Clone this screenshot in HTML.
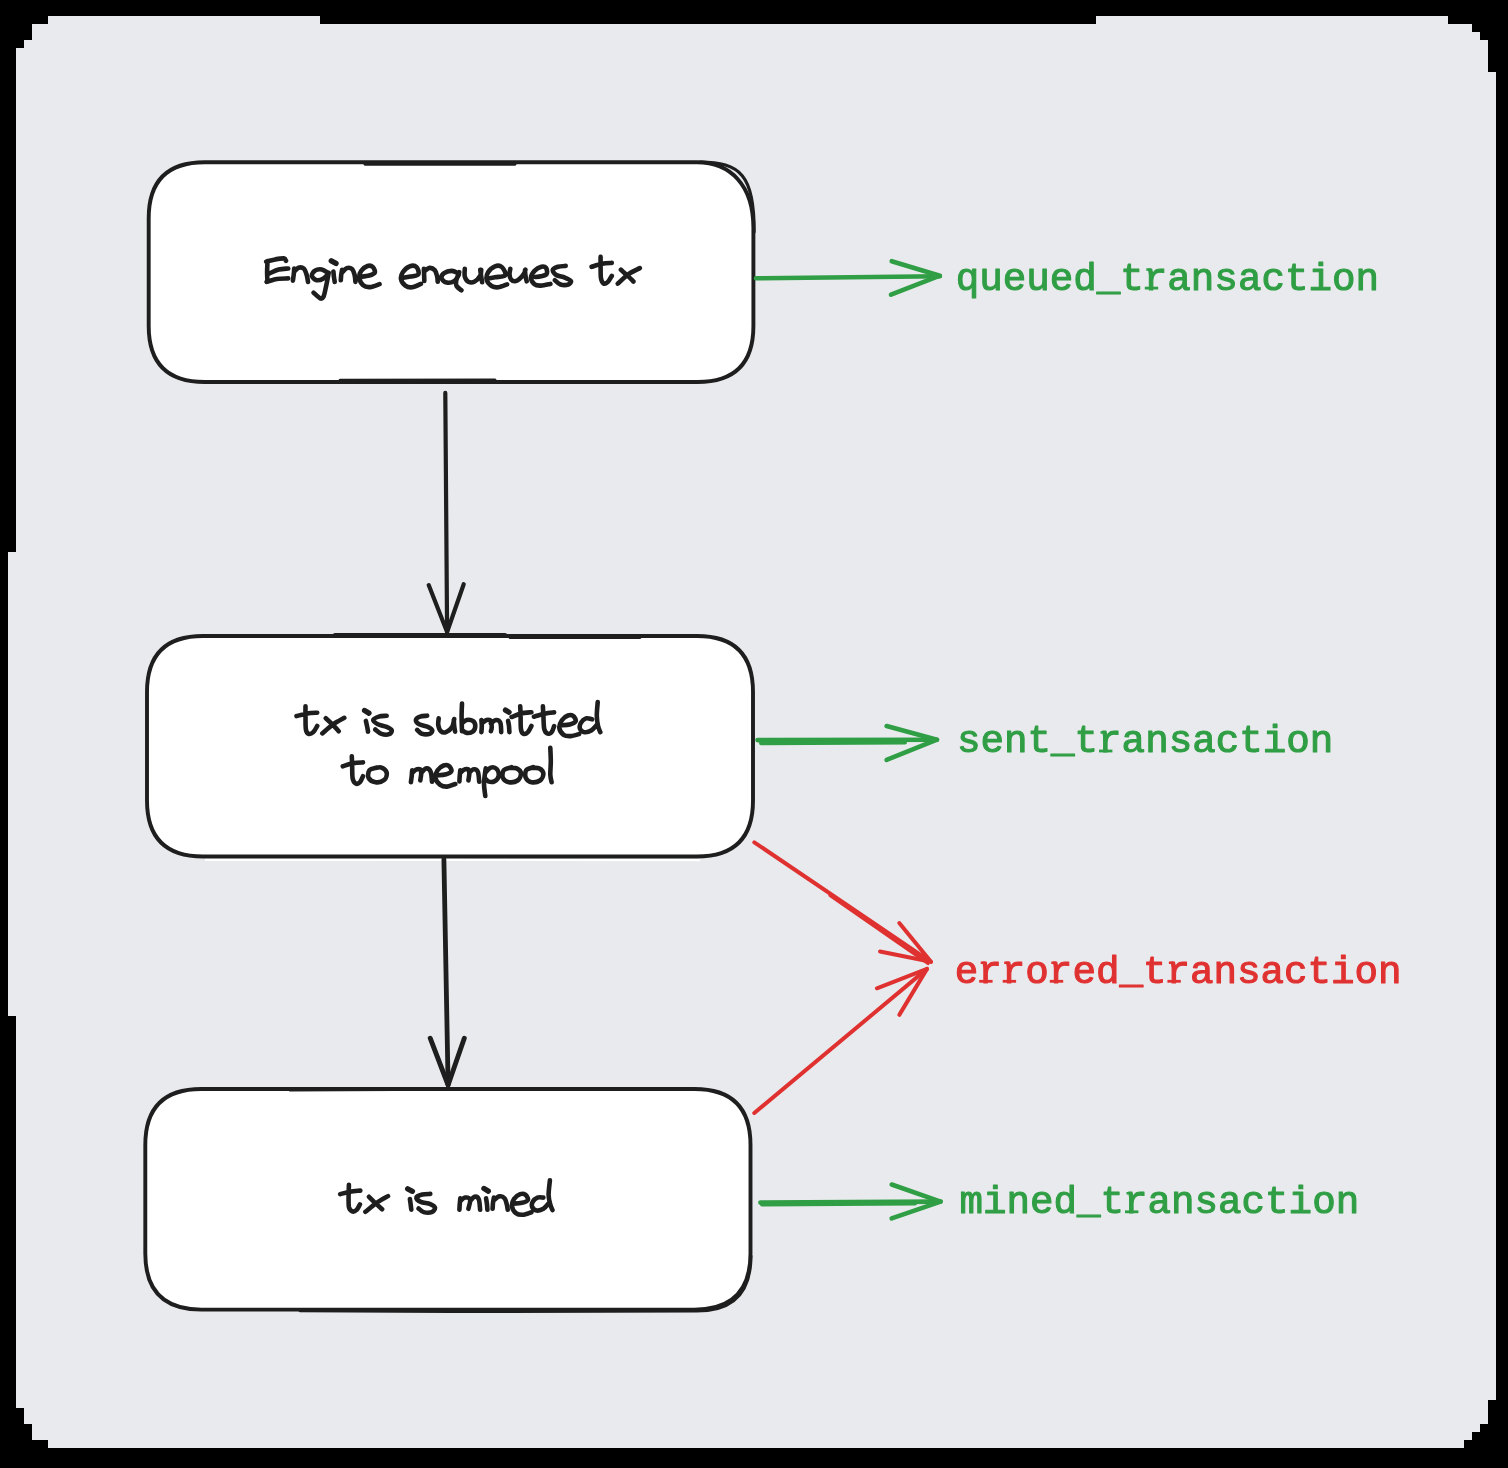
<!DOCTYPE html>
<html><head><meta charset="utf-8">
<style>
html,body{margin:0;padding:0;background:#000;width:1508px;height:1468px;overflow:hidden}
svg{display:block;will-change:transform}
.mono{font-family:"Liberation Mono",monospace;font-weight:normal;font-size:39.2px}
</style></head><body>
<svg width="1508" height="1468" viewBox="0 0 1508 1468">
<rect x="0" y="0" width="1508" height="1468" fill="#000"/>
<polygon fill="#e9eaed" points="48,16 320,16 320,24 1096,24 1096,16 1448,16 1448,24 1472,24 1472,32 1480,32 1480,40 1488,40 1488,72 1496,72 1496,1400 1488,1400 1488,1424 1480,1424 1480,1432 1472,1432 1472,1440 1464,1440 1464,1448 48,1448 48,1440 32,1440 32,1424 24,1424 24,1408 16,1408 16,1016 8,1016 8,552 16,552 16,48 24,48 24,40 32,40 32,24 48,24"/>
<path fill="none" stroke="#fff" stroke-width="2.6" d="M205 859.6 L700 859.9"/>
<g fill="#fff" stroke="#1e1e1e" stroke-width="3.9" stroke-linecap="round" stroke-linejoin="round">
<path d="M204.7 162.3 L697 162.3 C730 162.3 753.4 185 753.4 228 L753.4 326 Q753.4 382 697.4 382 L204.7 382 Q148.7 382 148.7 326 L148.7 218.3 Q148.7 162.3 204.7 162.3 Z"/>
<path d="M203 636 L697 636 Q753 636 753 692 L753 800.5 Q753 856.5 697 856.5 L203 856.5 Q147 856.5 147 800.5 L147 692 Q147 636 203 636 Z"/>
<path d="M201.3 1089 L694.5 1089 Q750.5 1089 750.5 1145 L750.5 1253.6 Q750.5 1309.6 694.5 1309.6 L201.3 1309.6 Q145.3 1309.6 145.3 1253.6 L145.3 1145 Q145.3 1089 201.3 1089 Z"/>
</g>
<path fill="none" stroke="#1e1e1e" stroke-width="3.2" stroke-linecap="round" d="M700 162.2C740 162.2 754.6 175 754.1 232"/>
<path fill="none" stroke="#1e1e1e" stroke-width="3" stroke-linecap="round" d="M340 380.3 L495 380.1"/>
<path fill="none" stroke="#1e1e1e" stroke-width="3" stroke-linecap="round" d="M365 164.2 L515 164.3"/>
<path fill="none" stroke="#1e1e1e" stroke-width="4.4" stroke-linecap="round" d="M335 635.3 L505 635.2"/>
<path fill="none" stroke="#1e1e1e" stroke-width="3" stroke-linecap="round" d="M510 637.4 L640 637.6"/>
<path fill="none" stroke="#1e1e1e" stroke-width="2.6" stroke-linecap="round" d="M290 1090.3 L450 1089.4"/>
<path fill="none" stroke="#1e1e1e" stroke-width="3" stroke-linecap="round" d="M300 1310.8 L450 1311.6 L697 1311.1 Q751 1311 751 1256"/>
<g fill="none" stroke="#1e1e1e" stroke-width="4.2" stroke-linecap="round" stroke-linejoin="round">
<path d="M445.3 392.9 L447.1 632"/>
<path d="M428.7 585.1 L447.1 632 L463.7 584.2"/>
<path stroke-width="4.8" d="M443.9 859.4 L448.1 1085"/>
<path stroke-width="4.9" d="M430.2 1038.2 L448.1 1085 L464.3 1038.2"/>
</g>
<g fill="none" stroke="#2f9e44" stroke-width="4.6" stroke-linecap="round" stroke-linejoin="round">
<path d="M756 278.3 L939.9 276.2"/>
<path d="M891.7 261.2 L939.9 275.7 L891 294.7"/>
<path d="M757.5 740.1 L937 739.7"/>
<path stroke-width="4" d="M761 743.2 L905 742.6"/>
<path d="M886.6 726 L937 739.7 L886.6 759.8"/>
<path d="M760.4 1202.6 L940.6 1201.6"/>
<path stroke-width="4" d="M762 1204.6 L915 1203.4"/>
<path d="M891.7 1184.5 L940.6 1201.6 L891.7 1218.4"/>
</g>
<g fill="none" stroke="#e03131" stroke-width="4" stroke-linecap="round" stroke-linejoin="round">
<path d="M754.3 842.3 L931 961.8"/>
<path stroke-width="3.2" d="M830 895.5 L928 963.5"/>
<path d="M899.3 923 L931 961.8 L880 951.5"/>
<path d="M754.3 1113 L927 968.9"/>
<path d="M876.9 988.3 L927 968.9 L899.3 1014.9"/>
</g>
<g class="mono" stroke-width="1.1" stroke-linejoin="round">
<text x="955.7" y="289.5" fill="#2f9e44" stroke="#2f9e44">queued_transaction</text>
<text x="957" y="752.4" fill="#2f9e44" stroke="#2f9e44">sent_transaction</text>
<text x="954.8" y="982.7" fill="#e03131" stroke="#e03131">errored_transaction</text>
<text x="959.4" y="1213.2" fill="#2f9e44" stroke="#2f9e44">mined_transaction</text>
</g>
<rect x="1144.8" y="286.7" width="13.4" height="2.8" fill="#2f9e44"/><rect x="1146.3" y="268.3" width="4.6" height="2.5" fill="#2f9e44"/><rect x="1099.0" y="749.6" width="13.4" height="2.8" fill="#2f9e44"/><rect x="1100.5" y="731.2" width="4.6" height="2.5" fill="#2f9e44"/><rect x="979.2" y="979.9" width="13.4" height="2.8" fill="#e03131"/><rect x="980.7" y="961.5" width="4.6" height="2.5" fill="#e03131"/><rect x="1002.7" y="979.9" width="13.4" height="2.8" fill="#e03131"/><rect x="1004.2" y="961.5" width="4.6" height="2.5" fill="#e03131"/><rect x="1049.8" y="979.9" width="13.4" height="2.8" fill="#e03131"/><rect x="1051.3" y="961.5" width="4.6" height="2.5" fill="#e03131"/><rect x="1167.4" y="979.9" width="13.4" height="2.8" fill="#e03131"/><rect x="1168.9" y="961.5" width="4.6" height="2.5" fill="#e03131"/><rect x="1125.0" y="1210.4" width="13.4" height="2.8" fill="#2f9e44"/><rect x="1126.5" y="1192.0" width="4.6" height="2.5" fill="#2f9e44"/>
<path fill="none" stroke="#1e1e1e" stroke-width="4.6" stroke-linecap="round" stroke-linejoin="round" d="M266.2 261.6C267.7 261.2 272.2 259.9 275.2 259.4C278.1 258.9 282.1 258.2 283.9 258.4C285.7 258.6 285.6 260.4 286.0 260.8M267.5 262.1C267.4 263.8 267.1 269.2 267.1 272.4C267.1 275.6 267.4 280.0 267.5 281.5M269.6 273.3C271.1 272.7 275.6 270.4 278.7 269.6C281.8 268.8 286.6 268.7 288.2 268.5M266.6 281.9C268.3 281.4 273.4 279.5 277.0 278.9C280.6 278.3 286.3 278.5 288.2 278.4M292.9 280.6C293.0 279.5 293.6 276.1 293.8 274.1C294.0 272.1 294.1 269.4 294.2 268.5M294.2 271.6C294.9 271.0 296.9 268.2 298.5 267.7C300.1 267.2 302.3 267.3 303.7 268.5C305.1 269.7 306.0 272.8 306.7 275.0C307.4 277.2 307.8 280.8 308.0 281.9M327.8 272.8C326.8 272.2 324.0 269.8 321.8 269.4C319.6 269.0 316.5 269.6 314.9 270.7C313.2 271.8 311.6 274.3 311.9 275.9C312.2 277.5 314.7 279.8 316.6 280.2C318.5 280.6 321.6 279.5 323.5 278.4C325.4 277.3 327.5 274.5 328.3 273.7M328.7 272.8C328.3 275.0 327.0 282.2 326.1 286.2C325.2 290.2 324.5 294.6 323.5 296.6C322.5 298.6 321.8 299.0 320.1 298.3C318.5 297.6 314.7 293.6 313.6 292.7M333.4 271.6C333.5 272.5 333.7 275.0 333.9 276.7C334.1 278.4 334.6 281.0 334.7 281.9M340.8 280.2C340.9 279.3 341.0 276.7 341.2 275.0C341.4 273.3 342.0 270.7 342.1 269.8M342.1 272.4C342.9 271.7 345.2 268.7 346.8 268.1C348.4 267.5 350.7 267.9 352.0 269.0C353.3 270.1 354.0 272.9 354.6 275.0C355.2 277.1 355.3 280.8 355.4 281.9M360.2 276.8C361.7 276.6 366.8 276.2 369.2 275.5C371.6 274.8 374.2 273.9 374.8 272.5C375.4 271.1 373.9 268.0 372.7 266.9C371.5 265.8 369.4 265.4 367.5 266.0C365.6 266.6 362.8 268.8 361.4 270.7C360.0 272.6 359.0 275.2 359.3 277.6C359.6 280.0 361.4 283.7 363.2 285.3C365.0 286.9 367.4 287.3 370.1 287.1C372.8 286.9 378.0 284.6 379.6 284.1M402.3 277.9C403.7 277.7 407.8 277.2 410.5 276.6C413.2 276.0 417.3 276.0 418.3 274.4C419.3 272.8 418.0 268.4 416.6 267.1C415.2 265.8 412.0 265.4 409.7 266.3C407.4 267.2 404.2 270.1 402.8 272.2C401.4 274.3 400.6 276.9 401.0 279.1C401.4 281.3 403.4 284.2 405.3 285.6C407.2 287.0 409.6 287.6 412.2 287.3C414.8 287.0 419.4 284.5 420.9 283.9M424.3 280.9C424.3 279.8 424.2 276.5 424.1 274.5C424.0 272.5 423.9 269.8 423.9 268.8M424.3 271.4C425.2 270.8 427.8 268.1 429.5 267.9C431.2 267.7 433.4 268.7 434.7 270.1C436.0 271.6 436.7 274.7 437.2 276.6C437.7 278.5 437.6 280.9 437.7 281.7M458.8 273.5C457.6 273.1 454.3 271.0 451.9 270.9C449.4 270.8 445.8 271.9 444.1 273.1C442.4 274.3 441.2 276.7 441.6 278.3C442.0 279.9 444.6 282.2 446.7 282.6C448.8 283.0 452.5 282.2 454.5 280.9C456.5 279.6 458.1 275.8 458.8 274.8M459.2 272.2C458.7 273.6 456.6 278.6 456.2 280.9C455.8 283.2 455.7 284.4 456.6 286.0C457.5 287.6 460.6 289.6 461.4 290.3M464.8 268.8C464.8 270.1 464.2 274.5 464.8 276.6C465.4 278.8 466.7 280.9 468.3 281.7C469.9 282.5 472.3 282.7 474.3 281.7C476.3 280.7 479.2 277.7 480.3 275.7C481.4 273.7 481.1 270.7 481.2 269.7M480.3 269.7C480.4 270.9 480.9 274.5 481.2 276.6C481.5 278.7 482.0 281.3 482.1 282.2M486.4 278.7C487.8 278.5 491.9 277.9 495.0 277.3C498.1 276.7 504.2 277.0 505.3 275.3C506.4 273.6 503.6 268.6 501.9 267.1C500.2 265.6 497.3 265.4 495.0 266.3C492.7 267.2 489.5 269.9 488.1 272.2C486.7 274.5 486.2 277.7 486.8 280.0C487.4 282.3 489.7 284.8 491.6 286.0C493.5 287.2 495.8 287.6 498.4 287.3C501.0 287.0 505.7 284.8 507.1 284.3M510.3 268.8C510.2 269.7 509.4 272.6 509.5 274.4C509.6 276.2 510.3 278.5 511.2 279.6C512.1 280.8 513.7 281.4 515.1 281.3C516.5 281.2 517.9 280.4 519.4 279.1C520.9 277.8 523.1 275.1 524.1 273.5C525.1 271.9 525.2 270.3 525.4 269.7M525.0 270.1C525.1 271.0 525.1 273.4 525.4 275.3C525.7 277.2 526.5 280.3 526.7 281.3M535.3 277.0C536.2 276.9 539.1 276.7 541.0 276.2C542.9 275.7 545.8 275.4 546.6 274.0C547.5 272.6 547.0 269.2 546.1 268.0C545.2 266.8 543.3 266.2 541.4 266.7C539.5 267.2 536.2 269.1 534.5 270.9C532.8 272.7 531.0 275.2 531.0 277.4C531.0 279.6 532.9 282.9 534.5 284.3C536.1 285.7 538.2 285.7 540.9 285.6C543.5 285.5 548.8 284.2 550.4 283.9M565.7 265.9C564.4 266.0 560.0 266.1 557.9 266.8C555.8 267.5 553.1 268.4 552.8 269.8C552.5 271.2 554.2 273.7 556.2 275.0C558.2 276.3 562.3 276.6 564.8 277.6C567.2 278.6 570.3 279.9 570.9 281.0C571.5 282.1 570.0 283.9 568.3 284.5C566.6 285.1 562.7 285.2 560.5 284.5C558.3 283.8 555.8 280.9 554.9 280.2M600.6 256.9C600.6 258.6 600.5 263.6 600.6 267.2C600.7 270.8 600.5 275.7 601.0 278.4C601.5 281.1 602.5 283.0 603.6 283.6C604.8 284.2 606.5 283.2 607.9 281.9C609.3 280.6 611.1 276.9 611.8 275.9M591.6 266.8C593.3 266.3 598.5 264.5 601.9 263.8C605.3 263.1 610.1 263.0 611.8 262.9M620.9 269.8C622.0 270.8 625.7 273.9 627.8 275.9C629.9 277.8 632.5 280.6 633.4 281.5M639.8 268.1C637.9 269.1 632.3 271.5 628.6 274.1C624.9 276.7 619.6 282.0 617.8 283.6M305.5 706.2C305.5 707.9 305.4 712.7 305.5 716.6C305.6 720.5 305.4 726.6 305.9 729.5C306.4 732.4 307.3 733.4 308.5 733.8C309.7 734.2 311.9 733.4 313.3 732.1C314.8 730.8 316.6 727.0 317.2 726.0M296.5 716.1C298.3 715.7 303.8 714.1 307.2 713.5C310.6 712.9 315.5 712.8 317.2 712.7M325.8 718.3C327.0 719.4 331.0 723.1 333.1 725.2C335.2 727.4 337.8 730.2 338.7 731.2M344.3 717.8C342.4 718.9 336.8 721.7 333.1 724.3C329.4 726.9 324.1 731.9 322.3 733.4M365.9 720.9C366.1 721.9 366.8 725.1 367.2 726.9C367.6 728.7 367.9 730.8 368.0 731.6M386.6 715.7C385.3 715.9 381.0 715.9 378.8 716.6C376.6 717.3 373.4 718.7 373.2 720.0C373.0 721.3 375.7 723.1 377.9 724.3C380.1 725.4 384.3 725.9 386.6 726.9C388.9 727.9 391.3 729.1 391.7 730.3C392.1 731.5 390.8 733.6 389.1 734.2C387.4 734.8 383.7 734.6 381.4 733.8C379.1 733.0 376.3 730.2 375.3 729.5M427.1 715.7C426.0 715.9 422.1 715.9 420.2 716.6C418.3 717.3 416.0 718.7 415.9 720.0C415.8 721.3 417.3 723.1 419.3 724.3C421.3 725.4 425.8 725.9 427.9 726.9C430.0 727.9 431.9 729.1 432.2 730.3C432.5 731.4 431.4 733.2 429.7 733.8C428.0 734.4 424.0 734.4 421.9 733.8C419.8 733.1 418.0 730.5 417.2 729.9M438.7 718.3C438.6 719.4 437.9 723.1 438.3 725.2C438.7 727.4 439.6 730.1 440.9 731.2C442.2 732.4 444.1 732.8 446.0 732.1C447.9 731.4 450.7 729.1 452.1 726.9C453.5 724.7 453.9 720.4 454.2 719.1M453.8 720.0C453.9 721.0 454.0 724.1 454.2 726.0C454.4 727.9 455.0 730.7 455.1 731.6M462.0 703.6C461.9 705.8 461.6 712.0 461.6 716.6C461.6 721.2 461.9 728.8 462.0 731.2M462.0 723.4C462.8 722.8 464.9 720.4 466.7 720.0C468.5 719.6 471.4 719.9 472.8 720.9C474.2 721.9 475.3 724.2 475.3 726.0C475.3 727.8 474.2 730.5 472.8 731.6C471.4 732.8 468.5 733.1 466.7 732.9C464.9 732.7 462.8 730.7 462.0 730.3M481.4 732.1C481.5 731.1 481.8 728.0 481.8 726.0C481.8 724.0 481.5 721.0 481.4 720.0M481.8 723.4C482.6 722.8 485.1 720.4 486.6 720.0C488.1 719.6 490.0 719.6 490.9 720.9C491.8 722.2 491.7 726.1 491.7 727.8C491.7 729.5 491.0 730.6 490.9 731.2M490.9 723.4C491.8 722.8 494.4 720.1 496.0 720.0C497.6 719.9 499.4 720.6 500.3 722.6C501.2 724.6 501.1 730.5 501.2 732.1M508.1 720.9C508.2 721.8 508.8 724.1 509.0 726.0C509.2 727.9 509.3 731.1 509.4 732.1M520.2 706.2C520.3 707.9 520.5 712.7 520.6 716.6C520.7 720.5 520.5 726.6 521.0 729.5C521.5 732.4 522.5 733.4 523.6 733.8C524.8 734.2 526.6 733.4 527.9 732.1C529.2 730.8 530.8 727.0 531.4 726.0M511.6 717.0C513.2 716.4 517.7 714.3 521.0 713.5C524.3 712.7 529.7 712.4 531.4 712.2M542.9 706.4C543.0 708.0 543.2 712.2 543.4 715.9C543.6 719.6 543.6 725.9 544.2 728.8C544.8 731.7 546.0 732.9 547.2 733.5C548.4 734.1 550.5 733.4 551.6 732.2C552.8 731.0 553.7 727.2 554.1 726.2M533.9 716.7C535.7 716.2 541.3 714.4 544.7 713.7C548.1 713.0 552.5 712.6 554.1 712.4M560.2 725.4C561.8 725.2 567.1 725.2 569.7 724.5C572.3 723.8 575.1 722.5 575.7 721.1C576.3 719.7 574.4 716.8 573.1 715.9C571.8 715.0 569.8 714.8 567.9 715.5C566.0 716.2 563.3 718.1 561.9 720.2C560.5 722.3 559.0 725.5 559.3 727.9C559.6 730.3 561.7 733.4 563.6 734.8C565.5 736.2 567.9 736.2 570.5 736.1C573.1 736.0 577.7 734.4 579.1 734.0M592.1 719.3C591.1 719.1 587.9 717.8 586.0 718.4C584.1 719.0 581.9 721.1 580.9 722.8C579.9 724.5 579.4 727.2 580.0 728.8C580.6 730.4 582.4 731.9 584.3 732.2C586.2 732.5 589.1 731.8 591.2 730.5C593.4 729.2 596.2 725.5 597.2 724.5M597.7 702.1C597.6 704.4 596.7 711.9 596.8 715.9C596.9 719.9 597.5 723.5 598.1 726.2C598.7 728.9 599.9 731.2 600.3 732.2M351.8 756.4C351.9 758.3 352.1 763.9 352.2 767.6C352.3 771.3 352.1 776.1 352.7 778.8C353.3 781.4 354.5 782.9 355.7 783.5C356.9 784.1 358.8 783.4 360.0 782.2C361.2 781.0 362.5 777.2 363.0 776.2M342.8 766.3C344.5 765.8 349.7 763.9 353.1 763.3C356.5 762.6 361.4 762.5 363.0 762.4M376.4 767.6C375.2 768.0 370.8 768.5 369.5 770.2C368.2 771.9 367.6 775.9 368.6 777.9C369.6 779.9 372.9 781.8 375.5 782.2C378.1 782.6 382.2 781.7 384.1 780.1C386.0 778.5 387.1 774.9 386.7 772.8C386.3 770.7 383.5 768.4 381.6 767.6C379.7 766.8 376.5 767.9 375.5 768.0M410.9 782.2C411.0 781.2 411.5 778.2 411.7 776.2C411.9 774.2 412.1 771.2 412.2 770.2M412.2 772.8C413.0 772.2 415.4 769.6 416.9 769.3C418.4 769.0 420.6 769.1 421.2 771.0C421.8 772.9 420.4 778.9 420.3 780.5M421.2 772.8C422.1 772.1 424.8 768.5 426.4 768.4C428.0 768.2 429.8 769.7 430.7 771.9C431.6 774.1 431.8 780.1 432.0 781.8M436.7 775.4C438.1 775.2 442.9 775.2 445.3 774.5C447.8 773.8 450.8 772.5 451.4 771.1C452.0 769.7 450.1 766.8 448.8 765.9C447.5 765.0 445.5 764.8 443.6 765.5C441.7 766.2 439.0 768.1 437.6 770.2C436.2 772.3 435.0 775.5 435.4 777.9C435.8 780.3 438.2 783.3 440.2 784.8C442.1 786.2 444.6 786.7 447.1 786.6C449.6 786.5 453.9 784.4 455.3 784.0M459.4 781.4C459.5 780.4 459.6 777.2 459.8 775.3C460.0 773.4 460.2 771.1 460.3 770.2M460.3 772.8C461.1 772.2 463.5 769.6 465.0 769.3C466.5 769.0 468.7 769.1 469.3 771.0C469.9 772.9 468.5 778.9 468.4 780.5M469.3 772.8C470.0 772.2 472.2 769.4 473.6 769.3C475.0 769.1 477.0 769.8 477.9 771.9C478.8 774.0 479.0 780.1 479.2 781.8M485.7 768.4C485.4 770.9 484.1 778.5 484.0 783.1C483.9 787.7 485.1 793.9 485.3 796.0M485.3 772.8C486.2 771.9 489.0 768.2 490.9 767.6C492.8 767.0 495.6 767.9 496.9 769.3C498.2 770.7 499.0 774.2 498.6 776.2C498.2 778.2 496.0 780.5 494.3 781.4C492.6 782.3 489.9 782.0 488.3 781.4C486.7 780.8 485.4 778.6 484.8 778.0M511.6 767.2C510.3 767.7 505.2 768.4 503.8 770.2C502.4 772.0 502.0 775.9 502.9 777.9C503.8 779.9 506.6 781.8 509.0 782.2C511.4 782.6 515.6 781.9 517.6 780.5C519.6 779.1 521.1 775.6 521.0 773.6C520.9 771.6 518.6 769.3 516.7 768.4C514.8 767.5 511.0 768.1 509.8 768.0M533.1 767.2C532.0 767.7 527.4 768.4 526.2 770.2C525.0 772.0 524.9 775.9 525.8 777.9C526.7 779.9 529.0 781.8 531.4 782.2C533.8 782.6 538.0 781.9 540.0 780.5C542.0 779.1 543.5 775.6 543.4 773.6C543.2 771.6 541.0 769.3 539.1 768.4C537.2 767.5 533.4 768.1 532.2 768.0M550.3 747.8C550.4 750.1 550.8 757.1 550.8 761.6C550.8 766.1 550.2 771.1 550.3 774.5C550.4 777.9 551.4 780.9 551.6 782.2M348.9 1184.8C348.9 1186.7 348.6 1192.4 348.6 1196.1C348.6 1199.8 348.4 1204.5 348.9 1207.0C349.5 1209.5 350.9 1210.9 352.2 1211.4C353.5 1211.9 355.3 1211.1 356.6 1209.9C357.9 1208.8 359.3 1205.4 359.9 1204.5M340.2 1194.2C341.8 1193.8 346.6 1192.3 350.0 1191.7C353.4 1191.1 358.6 1190.8 360.3 1190.6M369.0 1196.8C370.1 1197.9 373.4 1201.3 375.6 1203.4C377.8 1205.5 381.0 1208.2 382.1 1209.2M388.0 1196.1C386.2 1197.2 380.8 1200.0 377.0 1202.6C373.2 1205.2 367.3 1210.3 365.4 1211.8M409.9 1199.0C410.0 1199.8 410.4 1202.3 410.6 1204.1C410.8 1205.9 411.2 1208.7 411.3 1209.6M430.3 1193.9C429.0 1194.0 424.6 1194.0 422.3 1194.6C420.0 1195.2 416.6 1196.3 416.4 1197.5C416.1 1198.7 418.5 1200.8 420.8 1201.9C423.1 1203.0 427.9 1203.1 430.3 1204.1C432.7 1205.1 434.8 1206.4 435.0 1207.7C435.2 1209.0 433.6 1211.4 431.7 1212.1C429.8 1212.8 425.9 1212.7 423.7 1212.1C421.5 1211.5 419.5 1209.1 418.6 1208.5M459.4 1209.7C459.5 1208.7 459.6 1205.5 459.8 1203.6C460.0 1201.7 460.2 1199.3 460.3 1198.4M460.3 1201.0C461.1 1200.4 463.4 1197.9 465.0 1197.6C466.6 1197.3 469.6 1197.4 470.2 1199.3C470.8 1201.2 468.7 1207.2 468.4 1208.8M470.2 1201.0C470.9 1200.3 473.1 1197.0 474.5 1196.7C475.9 1196.4 477.9 1197.1 478.8 1199.3C479.7 1201.5 479.9 1208.0 480.1 1209.7M486.1 1198.4C486.2 1199.4 486.8 1202.6 487.0 1204.5C487.2 1206.4 487.3 1208.8 487.4 1209.7M492.6 1208.8C492.7 1207.8 492.8 1204.7 493.0 1202.8C493.2 1200.9 493.8 1198.5 493.9 1197.6M493.9 1200.2C494.8 1199.5 497.7 1196.6 499.5 1196.3C501.3 1196.0 503.5 1197.0 504.7 1198.4C505.9 1199.8 506.3 1202.6 506.8 1204.5C507.3 1206.4 507.6 1208.8 507.7 1209.7M512.4 1203.7C514.0 1203.6 519.3 1203.5 521.9 1202.8C524.5 1202.2 527.3 1201.2 527.9 1199.8C528.5 1198.4 526.6 1195.5 525.3 1194.6C524.0 1193.7 522.1 1193.5 520.2 1194.2C518.3 1194.9 515.5 1196.9 514.1 1198.9C512.7 1200.9 511.7 1203.8 512.0 1206.2C512.3 1208.6 514.1 1211.7 515.9 1213.1C517.7 1214.5 520.2 1214.9 522.8 1214.8C525.4 1214.7 530.0 1212.6 531.4 1212.2M543.4 1197.6C542.4 1197.6 539.2 1196.9 537.4 1197.6C535.6 1198.3 533.6 1200.3 532.7 1201.9C531.8 1203.5 531.6 1205.7 532.2 1207.1C532.9 1208.5 534.7 1210.2 536.6 1210.5C538.5 1210.8 541.3 1210.1 543.4 1208.8C545.5 1207.5 548.1 1203.8 549.1 1202.8M549.9 1180.3C549.7 1182.8 548.5 1191.0 548.6 1195.0C548.7 1199.0 549.6 1202.0 550.3 1204.5C550.9 1207.0 552.1 1209.2 552.5 1210.1"/><path fill="none" stroke="#1e1e1e" stroke-width="5.4" stroke-linecap="round" stroke-linejoin="round" d="M331.3 260.8L336.0 263.4M364.6 710.5L368.9 713.1M505.5 710.1L509.0 712.2M407.7 1188.8L412.4 1191.3M484.0 1188.5L488.3 1191.1"/>
</svg>
</body></html>
